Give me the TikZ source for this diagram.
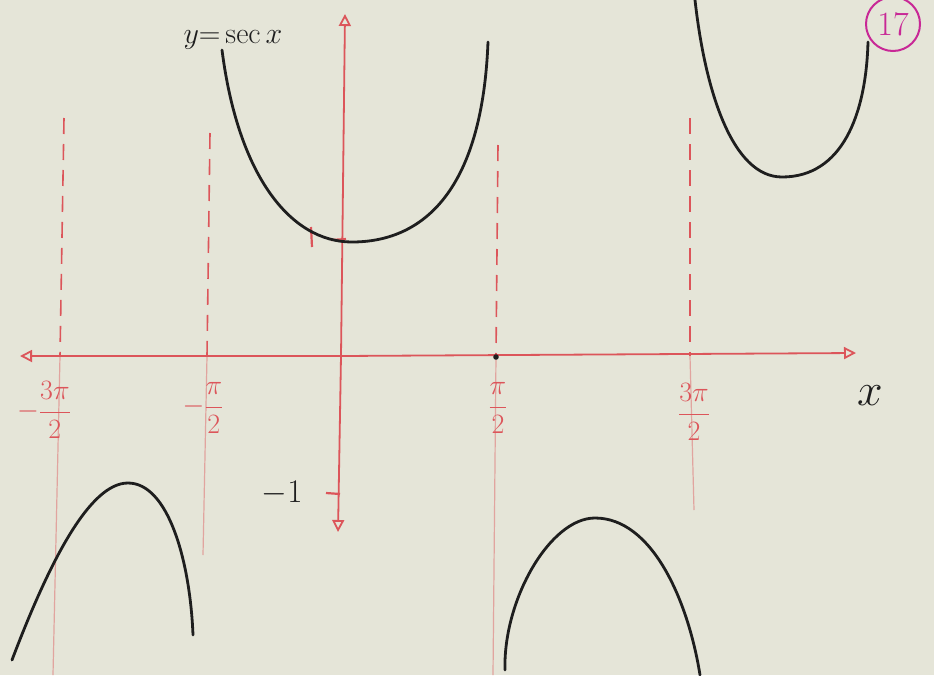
\RequirePackage{fix-cm}
\documentclass[tikz,border=0pt]{standalone}
\usetikzlibrary{arrows.meta}
\definecolor{paper}{RGB}{229,229,216}
\definecolor{pen}{RGB}{220,85,90}
\definecolor{ink}{RGB}{30,30,30}
\definecolor{circ}{RGB}{200,40,150}
\tikzset{
  axis/.style={pen, line width=1.8pt, -{Triangle[open,length=12pt,width=12pt,line width=1.8pt]}},
  asym/.style={pen, line width=1.6pt, dash pattern=on 16pt off 10pt},
  faint/.style={pen!45!paper, line width=1.2pt},
  curve/.style={ink, line width=2.8pt, line cap=round},
  lbl/.style={pen, font=\fontsize{28}{30}\selectfont},
  tickmark/.style={pen, line width=2.2pt}
}
\begin{document}
\begin{tikzpicture}[x=1pt,y=-1pt]
\fill[paper] (0,0) rectangle (934,675);
\useasboundingbox (0,0) rectangle (934,675);
% asymptotes (dashed above the axis, faint below)
\coordinate (a1t) at (64,118); \coordinate (a1m) at (60,356); \coordinate (a1b) at (53,675);
\coordinate (a2t) at (210,133); \coordinate (a2m) at (207,356); \coordinate (a2b) at (203,555);
\coordinate (a3t) at (498,145); \coordinate (a3m) at (496,356); \coordinate (a3b) at (493,675);
\coordinate (a4t) at (690,118); \coordinate (a4m) at (690,356); \coordinate (a4b) at (694,510);
\draw[asym] (a1t) -- (a1m);
\draw[asym] (a2t) -- (a2m);
\draw[asym] (a3t) -- (a3m);
\draw[asym] (a4t) -- (a4m);
\draw[faint] (a1m) -- (a1b);
\draw[faint] (a2m) -- (a2b);
\draw[faint] (a3m) -- (a3b);
\draw[faint] (a4m) -- (a4b);
% axes
\coordinate (xl) at (20,356);
\coordinate (xr) at (856,353);
\coordinate (yt) at (345,14);
\coordinate (yb) at (338,532);
\coordinate (o) at (341,356);
\draw[axis] (o) -- (xr);
\draw[axis] (o) -- (xl);
\draw[axis] (o) -- (yt);
\draw[axis] (o) -- (yb);
% ticks
\coordinate (t1a) at (331,240); \coordinate (t1b) at (346,239);
\draw[tickmark] (t1a) -- (t1b);
\coordinate (tma) at (326,493); \coordinate (tmb) at (340,494);
\draw[tickmark] (tma) -- (tmb);
\coordinate (k1a) at (311,227); \coordinate (k1b) at (312,247);
\draw[tickmark] (k1a) -- (k1b);
\fill[ink] (496,357) circle (2.8pt);
% labels
\node[lbl] (l1) at (44,410) {$-\displaystyle\frac{3\pi}{2}$};
\node[lbl] (l2) at (203,408) {$-\displaystyle\frac{\pi}{2}$};
\node[lbl] (l3) at (498,408) {$\displaystyle\frac{\pi}{2}$};
\node[lbl] (l4) at (694,412) {$\displaystyle\frac{3\pi}{2}$};
\node[ink, font=\fontsize{46}{48}\selectfont] (lx) at (870,396) {$x$};
\node[ink, font=\fontsize{33}{35}\selectfont] (lm1) at (282,493) {$-1$};
\node[ink, font=\fontsize{30}{32}\selectfont, anchor=west] (ly) at (180,40) {$y{=}\sec x$};
\node[circ, draw, circle, line width=2pt, inner sep=2pt, minimum size=54pt, font=\fontsize{34}{36}\selectfont] (num) at (893,24) {17};
% curves
\draw[curve] (222,50) .. controls (238,175) and (290,242) .. (352,242)
             .. controls (420,242) and (482,195) .. (488,42);
\draw[curve] (695,0) .. controls (705,90) and (732,177) .. (782,177)
             .. controls (842,177) and (866,115) .. (868,42);
\draw[curve] (12,660) .. controls (50,560) and (90,483) .. (128,483)
             .. controls (168,483) and (190,560) .. (193,635);
\draw[curve] (505,670) .. controls (503,600) and (550,518) .. (595,518)
             .. controls (652,518) and (688,600) .. (700,675);
\end{tikzpicture}
\end{document}
